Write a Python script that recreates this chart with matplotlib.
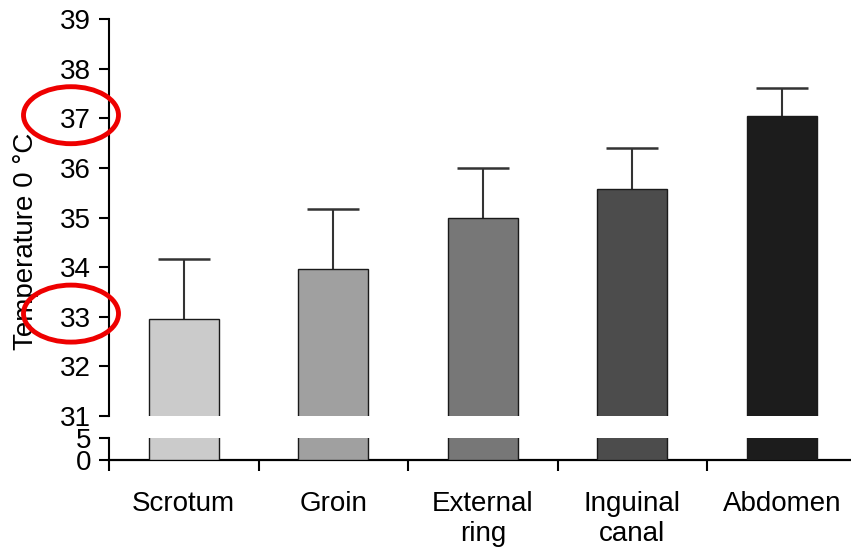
import matplotlib.pyplot as plt
from matplotlib.patches import Ellipse

plt.rcParams['font.family'] = ['Liberation Sans', 'DejaVu Sans']

# data
sites = ['Scrotum', 'Groin', 'External\nring', 'Inguinal\ncanal', 'Abdomen']
temps = [32.95, 33.97, 35.0, 35.57, 37.04]
sd = [1.21, 1.21, 0.99, 0.84, 0.57]
shades = ['#cbcbcb', '#a0a0a0', '#777777', '#4c4c4c', '#1c1c1c']
top_ticks = [31, 32, 33, 34, 35, 36, 37, 38, 39]
bottom_ticks = [0, 5]
circled = [37, 33]

x = list(range(len(sites)))
W, H = 851, 548
fig = plt.figure(figsize=(W / 100, H / 100), dpi=100)

left = 109 / W
width = 747.5 / W
ax_top = fig.add_axes([left, (H - 416) / H, width, 397 / H])
ax_bot = fig.add_axes([left, (H - 460) / H, width, 22 / H])

for ax in (ax_top, ax_bot):
    ax.bar(x, temps, width=0.47, color=shades, edgecolor='#1a1a1a',
           linewidth=1.0, zorder=3)
    ax.set_xlim(-0.5, 4.5)
    for s in ('top', 'right'):
        ax.spines[s].set_visible(False)
    ax.spines['left'].set_linewidth(1.5)
    ax.tick_params(axis='y', direction='out', length=7, width=1.5,
                   labelsize=20, pad=6)

# error bars (upper only)
err_top = [t + s for t, s in zip(temps, sd)]
ax_top.vlines(x, temps, err_top, color='#333333', linewidth=1.5, zorder=2)
ax_top.hlines(err_top, [i - 0.174 for i in x], [i + 0.174 for i in x],
              color='#333333', linewidth=1.8, zorder=2)

ax_top.set_ylim(31, 39)
ax_top.set_yticks(top_ticks)
ax_top.spines['bottom'].set_visible(False)
ax_top.tick_params(axis='x', bottom=False, labelbottom=False)

ax_bot.set_ylim(0, 5)
ax_bot.set_yticks(bottom_ticks)
ax_bot.spines['bottom'].set_linewidth(1.6)
ax_bot.set_xticks([i - 0.5 for i in range(len(sites) + 1)])
ax_bot.set_xticklabels([''] * (len(sites) + 1))
ax_bot.tick_params(axis='x', direction='out', length=8, width=1.5)

# category labels below the axis
label_tr = ax_bot.get_xaxis_transform() + \
    plt.matplotlib.transforms.ScaledTranslation(0, -0.31, fig.dpi_scale_trans)
for i, name in enumerate(sites):
    ax_bot.text(i, 0, name, transform=label_tr, ha='center', va='top',
                fontsize=20, linespacing=1.2)

fig.text(26 / W, 1 - 241 / H, 'Temperature 0 °C', rotation=90,
         ha='center', va='center', fontsize=20)

# red ellipses around the marked tick labels
for v in circled:
    ypix = 19 + (39 - v) * 49.6 - 3
    e = Ellipse((71 / W, 1 - ypix / H), 95 / W, 57 / H,
                transform=fig.transFigure, fill=False, edgecolor='#ee0000',
                linewidth=3.5, zorder=10)
    fig.add_artist(e)

fig.savefig('out.png', dpi=100)
